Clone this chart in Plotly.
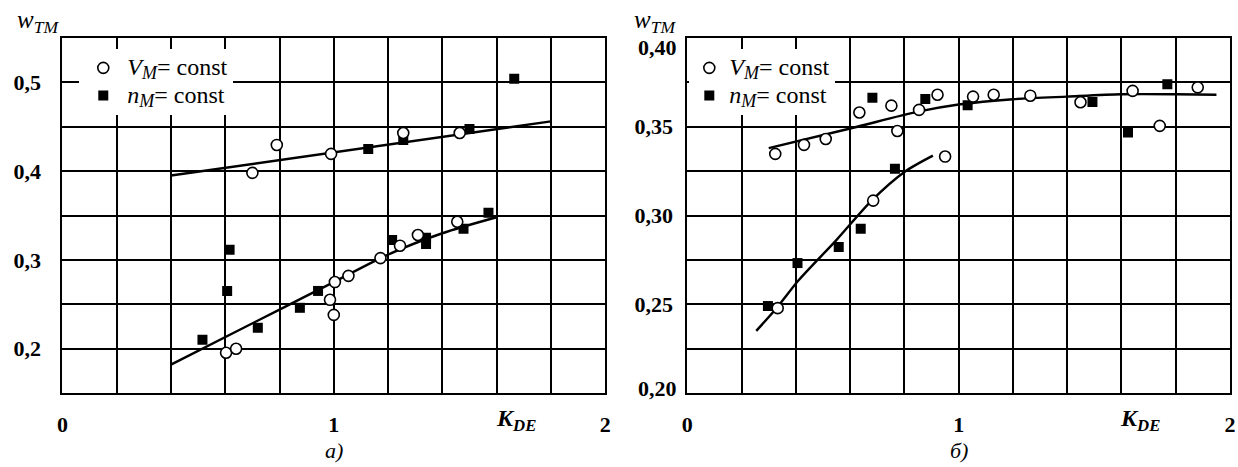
import plotly.graph_objects as go

# ---------- panel а): w_TM vs K_DE ----------
a_circ_x = [0.70, 0.79, 0.99, 1.256, 1.464,
            0.603, 0.64, 1.004, 0.986, 1.0, 1.054, 1.172, 1.244, 1.31, 1.455]
a_circ_y = [0.398, 0.4295, 0.4194, 0.443, 0.443,
            0.1953, 0.1998, 0.275, 0.255, 0.238, 0.282, 0.302, 0.316, 0.328, 0.343]
a_sq_x = [1.127, 1.256, 1.50, 1.665,
          0.616, 0.607, 0.516, 0.72, 0.875, 0.942, 1.215, 1.34, 1.34, 1.478, 1.57]
a_sq_y = [0.425, 0.435, 0.4475, 0.504,
          0.3113, 0.265, 0.210, 0.2235, 0.246, 0.265, 0.3225, 0.325, 0.318, 0.335, 0.353]
a_fit1_x = [0.4, 1.8]
a_fit1_y = [0.395, 0.456]
a_fit2_x = [0.4, 0.8, 1.0, 1.2, 1.4, 1.6]
a_fit2_y = [0.182, 0.244, 0.275, 0.306, 0.330, 0.348]

# ---------- panel б) ----------
b_circ_x = [0.324, 0.43, 0.51, 0.634, 0.752, 0.774, 0.854, 0.922, 1.053, 1.129,
            1.264, 1.449, 1.641, 1.741, 1.881, 0.685, 0.95, 0.333]
b_circ_y = [0.3347, 0.3398, 0.3431, 0.358, 0.3619, 0.3476, 0.3595, 0.368, 0.367, 0.368,
            0.3675, 0.3638, 0.3702, 0.3505, 0.3722, 0.3084, 0.3332, 0.2478]
b_sq_x = [0.682, 0.877, 1.033, 1.493, 1.624, 1.769,
          0.765, 0.639, 0.297, 0.406, 0.558]
b_sq_y = [0.3664, 0.3657, 0.3621, 0.364, 0.3467, 0.3739,
          0.3263, 0.2925, 0.249, 0.2732, 0.2822]
b_fit1_x = [0.30, 0.6, 0.85, 1.0, 1.2, 1.4, 1.6, 1.8, 1.95]
b_fit1_y = [0.338, 0.349, 0.3585, 0.3625, 0.3655, 0.367, 0.3683, 0.3683, 0.368]
b_fit2_x = [0.254, 0.33, 0.41, 0.55, 0.68, 0.80, 0.905]
b_fit2_y = [0.235, 0.248, 0.2635, 0.2863, 0.3085, 0.3245, 0.3337]

x_ticks = [0, 1, 2]
a_yticks = [0.2, 0.3, 0.4, 0.5]
a_ylabels = ["0,2", "0,3", "0,4", "0,5"]
b_yticks = [0.25, 0.30, 0.35]
b_ylabels = ["0,25", "0,30", "0,35"]
b_ytop, b_ytop_label = 0.40, "0,40"
b_ybot, b_ybot_label = 0.20, "0,20"

SERIF = "Liberation Serif"
W, H = 1238, 467

# legend entries: the text runs larger than the legend's row pitch font
big = "font-size:24px"
small = "font-size:18px"
circ_label = (f"<span style='{big}'><i>V</i></span>"
              f"<sub><span style='{small}'><i>M</i></span></sub>"
              f"<span style='{big}'>= const</span>")
sq_label = (f"<span style='{big}'><i>n</i></span>"
            f"<sub><span style='{small}'><i>M</i></span></sub>"
            f"<span style='{big}'>= const</span>")
circ_marker = dict(symbol="circle", size=11, color="white",
                   line=dict(color="black", width=1.6))
sq_marker = dict(symbol="square", size=10, color="black",
                 line=dict(color="black", width=0))
fit_line = dict(color="black", width=2.4)

fig = go.Figure()

# fitted curves
fig.add_trace(go.Scatter(x=a_fit1_x, y=a_fit1_y, mode="lines", line=fit_line,
                         showlegend=False, xaxis="x", yaxis="y"))
fig.add_trace(go.Scatter(x=a_fit2_x, y=a_fit2_y, mode="lines",
                         line=dict(shape="spline", smoothing=0.8, **fit_line),
                         showlegend=False, xaxis="x", yaxis="y"))
fig.add_trace(go.Scatter(x=b_fit1_x, y=b_fit1_y, mode="lines",
                         line=dict(shape="spline", smoothing=0.8, **fit_line),
                         showlegend=False, xaxis="x2", yaxis="y2"))
fig.add_trace(go.Scatter(x=b_fit2_x, y=b_fit2_y, mode="lines",
                         line=dict(shape="spline", smoothing=0.8, **fit_line),
                         showlegend=False, xaxis="x2", yaxis="y2"))

# measured points
fig.add_trace(go.Scatter(x=a_sq_x, y=a_sq_y, mode="markers", marker=sq_marker,
                         name=sq_label, legend="legend", legendrank=2,
                         xaxis="x", yaxis="y"))
fig.add_trace(go.Scatter(x=a_circ_x, y=a_circ_y, mode="markers", marker=circ_marker,
                         name=circ_label, legend="legend", legendrank=1,
                         xaxis="x", yaxis="y"))
fig.add_trace(go.Scatter(x=b_sq_x, y=b_sq_y, mode="markers", marker=sq_marker,
                         name=sq_label, legend="legend2", legendrank=2,
                         xaxis="x2", yaxis="y2"))
fig.add_trace(go.Scatter(x=b_circ_x, y=b_circ_y, mode="markers", marker=circ_marker,
                         name=circ_label, legend="legend2", legendrank=1,
                         xaxis="x2", yaxis="y2"))

tick_font = dict(family=SERIF, size=22, color="black", weight="bold")
grid = dict(showgrid=True, gridcolor="black", gridwidth=1.8)


def xaxis(domain, anchor):
    return dict(domain=domain, anchor=anchor, range=[0, 2],
                tickmode="array", tickvals=x_ticks, ticktext=[str(v) for v in x_ticks],
                tickfont=tick_font, ticks="", ticklabelstandoff=11,
                showline=True, linecolor="black", linewidth=2, mirror=True,
                zeroline=False, fixedrange=True,
                minor=dict(tick0=0, dtick=0.2, ticks="", **grid), **grid)


def yaxis(domain, anchor, rng, vals, labels, step, standoff):
    return dict(domain=domain, anchor=anchor, range=rng,
                tickmode="array", tickvals=vals, ticktext=labels,
                tickfont=tick_font, ticks="", ticklabelstandoff=standoff,
                showline=True, linecolor="black", linewidth=2, mirror=True,
                zeroline=False, fixedrange=True,
                minor=dict(tick0=rng[0], dtick=step, ticks="", **grid), **grid)


y_dom = [1 - 393 / H, 1 - 38 / H]
legend_style = dict(bgcolor="white", borderwidth=0,
                    font=dict(family=SERIF, size=19, color="black"),
                    xanchor="left", yanchor="top", tracegroupgap=0,
                    traceorder="normal")

fig.update_layout(
    width=W, height=H,
    margin=dict(l=0, r=0, t=0, b=0),
    font=dict(family=SERIF, color="black"),
    paper_bgcolor="white", plot_bgcolor="white",
    xaxis=xaxis([57 / W, 605 / W], "y"),
    yaxis=yaxis(y_dom, "x", [0.15, 0.55], a_yticks, a_ylabels, 0.05, 15),
    xaxis2=xaxis([688 / W, 1236 / W], "y2"),
    yaxis2=yaxis(y_dom, "x2", [0.20, 0.40], b_yticks, b_ylabels, 0.025, 8),
    legend=dict(x=74 / W, y=1 - 49 / H, itemwidth=38, **legend_style),
    legend2=dict(x=690 / W, y=1 - 49 / H, itemwidth=30, **legend_style),
    showlegend=True,
)

title_font = dict(family=SERIF, size=25, color="black")
ann = []
for xc in (32, 655):
    ann.append(dict(text="<i>w</i><sub><i>TM</i></sub>", x=xc / W, y=1 - 21 / H,
                    xref="paper", yref="paper", xanchor="center", yanchor="middle",
                    showarrow=False, font=title_font))
for xa in ("x", "x2"):
    ann.append(dict(text="<b><i>K</i></b><sub><b><i>DE</i></b></sub>", x=1.67, xref=xa,
                    y=1 - 420 / H, yref="paper", xanchor="center", yanchor="middle",
                    showarrow=False, font=dict(family=SERIF, size=24, color="black")))
# end labels of the б) value axis sit slightly inside the frame
ann.append(dict(text=b_ytop_label, x=680 / W, xref="paper", y=b_ytop, yref="y2",
                xanchor="right", yanchor="middle", yshift=-10, showarrow=False,
                font=tick_font))
ann.append(dict(text=b_ybot_label, x=680 / W, xref="paper", y=b_ybot, yref="y2",
                xanchor="right", yanchor="middle", yshift=5, showarrow=False,
                font=tick_font))
ann.append(dict(text="<i>а)</i>", x=1.0, xref="x", y=1 - 450 / H, yref="paper",
                xanchor="center", yanchor="middle",
                showarrow=False, font=dict(family=SERIF, size=22, color="black")))
ann.append(dict(text="<i>б)</i>", x=1.0, xref="x2", y=1 - 450 / H, yref="paper",
                xanchor="center", yanchor="middle",
                showarrow=False, font=dict(family=SERIF, size=22, color="black")))
fig.update_layout(annotations=ann)

fig.write_html("out.html", post_script="document.body.style.margin='0';")
